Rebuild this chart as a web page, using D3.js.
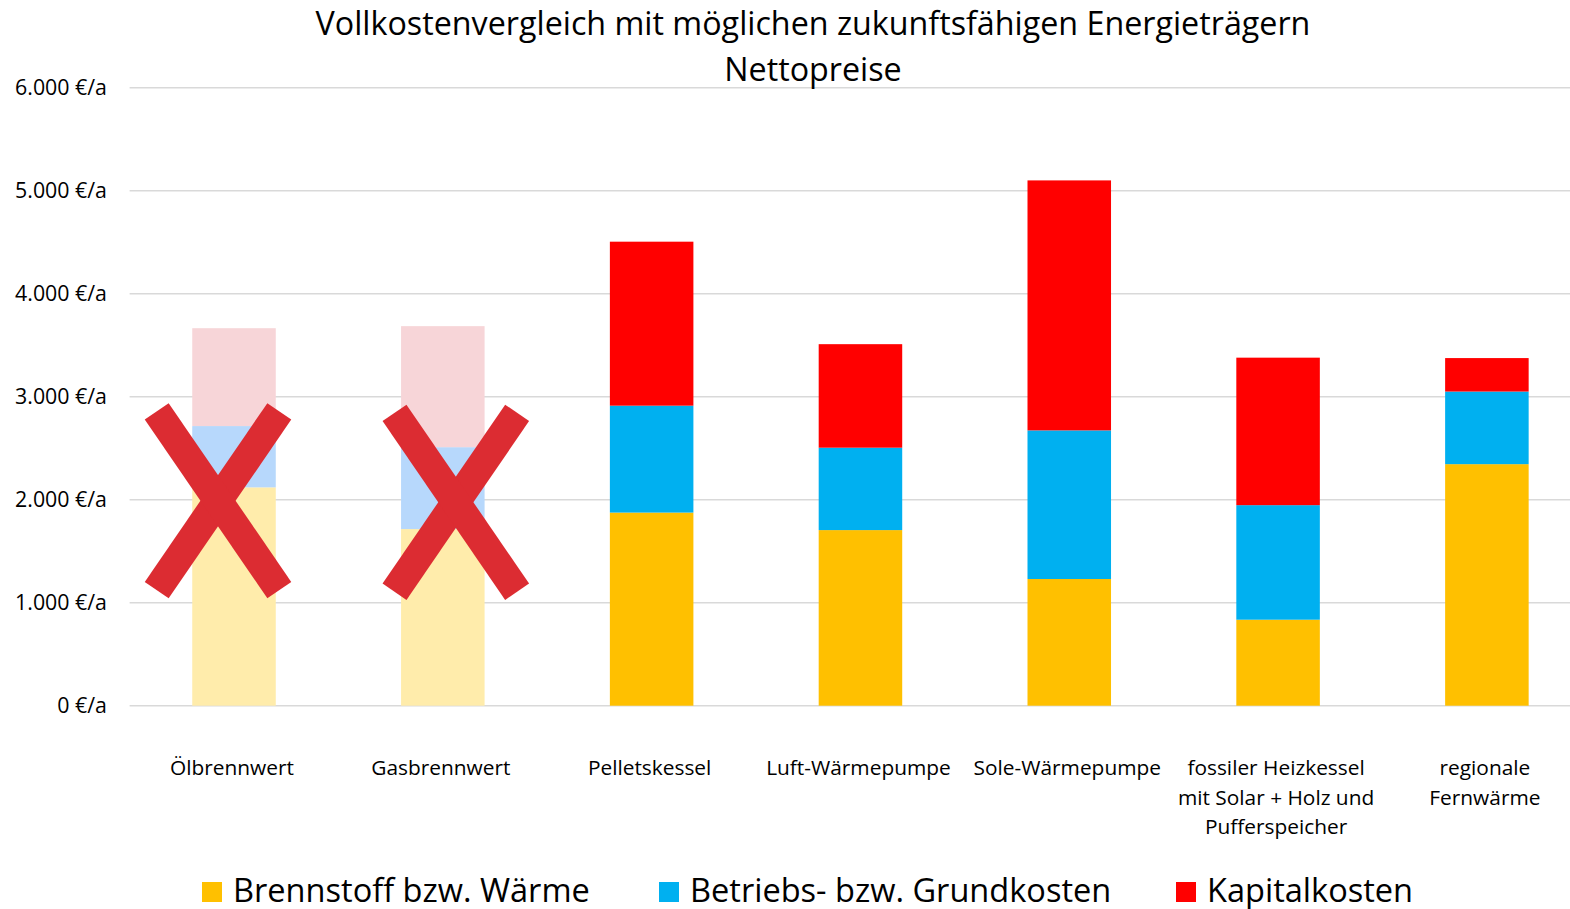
<!DOCTYPE html>
<html><head><meta charset="utf-8">
<script src="https://cdn.jsdelivr.net/npm/d3@7"></script>
<style>
html,body{margin:0;padding:0;background:#fff;}
svg text{font-family:"Open Sans",sans-serif;fill:#000;}
</style></head>
<body><svg id="c" width="1570" height="909"></svg>
<script>
// ---- data ----
const categories = ["Ölbrennwert","Gasbrennwert","Pelletskessel","Luft-Wärmepumpe","Sole-Wärmepumpe","fossiler Heizkessel mit Solar + Holz und Pufferspeicher","regionale Fernwärme"];
const categoryLines = [["Ölbrennwert"],["Gasbrennwert"],["Pelletskessel"],["Luft-Wärmepumpe"],["Sole-Wärmepumpe"],["fossiler Heizkessel","mit Solar + Holz und","Pufferspeicher"],["regionale","Fernwärme"]];
const seriesNames = ["Brennstoff bzw. Wärme","Betriebs- bzw. Grundkosten","Kapitalkosten"];
const brennstoff = [2120, 1715, 1875, 1705, 1230, 835, 2345];
const betrieb    = [ 595,  795, 1038,  800, 1443, 1112,  705];
const kapital    = [ 950, 1175, 1592, 1005, 2427, 1432,  325];
const crossedOut = ["Ölbrennwert","Gasbrennwert"];
const yTicks = [0,1000,2000,3000,4000,5000,6000];
const titleLines = ["Vollkostenvergleich mit möglichen zukunftsfähigen Energieträgern","Nettopreise"];

// ---- styles ----
const colors = ["#FFC000","#00B0F0","#FF0000"];
const fadedColors = ["#FFECAB","#B7D8FC","#F7D5D8"];
const crossColor = "#DC2C32";

const svg = d3.select("#c");
const x = d3.scaleBand().domain(categories).range([129.6,1591.3]).paddingInner(0.6).paddingOuter(0.3);
const y = d3.scaleLinear().domain([0,6000]).range([705.7,87.7]);

// font size fitting helper (size so that a sample string has a given width)
function fitSize(sample, targetW){
  const t = svg.append("text").style("font-size","100px").text(sample);
  const w = t.node().getComputedTextLength(); t.remove();
  return 100*targetW/w;
}
const fsTitle = fitSize(titleLines[0], 995);
const fsTick = fitSize("6.000 €/a", 92);
const fsCat = fitSize("Ölbrennwert", 124);
const fsLeg = fitSize(seriesNames[0], 357);

// grid
svg.append("g").selectAll("line").data(yTicks).join("line")
  .attr("x1",129.6).attr("x2",1591.3)
  .attr("y1",d=>y(d)).attr("y2",d=>y(d))
  .attr("stroke","#D9D9D9").attr("stroke-width",1.5);

// y tick labels
const fmt = d3.formatLocale({decimal:",",thousands:".",grouping:[3],currency:["","€"]}).format(",.0f");
svg.append("g").selectAll("text").data(yTicks).join("text")
  .attr("x",107).attr("y",d=>y(d)).attr("dy","0.35em")
  .attr("text-anchor","end").style("font-size",fsTick+"px")
  .text(d=>fmt(d)+" €/a");

// stacked bars
const rows = categories.map((c,i)=>({cat:c, s0:brennstoff[i], s1:betrieb[i], s2:kapital[i]}));
const stack = d3.stack().keys(["s0","s1","s2"])(rows);
stack.forEach((layer,k)=>{
  svg.append("g").selectAll("rect").data(layer).join("rect")
    .attr("x",d=>x(d.data.cat)).attr("width",x.bandwidth())
    .attr("y",d=>y(d[1])).attr("height",d=>y(d[0])-y(d[1]))
    .attr("fill",d=>crossedOut.includes(d.data.cat)?fadedColors[k]:colors[k]);
});

// crosses (annotation: offset from bar centre in px, centre value, half-span value)
const crossSpec = [{cat:"Ölbrennwert",off:-16,v:1990},{cat:"Gasbrennwert",off:13,v:1975}];
const halfW = 61.3, halfV = 868;
const cg = svg.append("g");
crossSpec.forEach(c=>{
  const cx = x(c.cat)+x.bandwidth()/2+c.off;
  [-1,1].forEach(sx=>{
    cg.append("line")
      .attr("x1",cx-sx*halfW).attr("y1",y(c.v+halfV))
      .attr("x2",cx+sx*halfW).attr("y2",y(c.v-halfV))
      .attr("stroke",crossColor).attr("stroke-width",29).attr("stroke-linecap","butt");
  });
});

// x labels
const xl = svg.append("g");
categories.forEach((c,i)=>{
  const cx = x(c)+x.bandwidth()/2 - 2;
  const t = xl.append("text").attr("text-anchor","middle").style("font-size",fsCat+"px")
    .attr("x",cx).attr("y",775);
  categoryLines[i].forEach((ln,j)=>t.append("tspan").attr("x",cx).attr("dy",j?29.5:0).text(ln));
});

// title
svg.append("text").attr("x",813).attr("y",35).attr("text-anchor","middle").style("font-size",fsTitle+"px").text(titleLines[0]);
svg.append("text").attr("x",813).attr("y",81).attr("text-anchor","middle").style("font-size",fsTitle+"px").text(titleLines[1]);

// legend
const legX = [202,659,1176];
const lg = svg.append("g");
seriesNames.forEach((n,i)=>{
  lg.append("rect").attr("x",legX[i]).attr("y",882).attr("width",20).attr("height",20).attr("fill",colors[i]);
  lg.append("text").attr("x",legX[i]+31).attr("y",902).style("font-size",fsLeg+"px").text(n);
});
</script></body></html>
